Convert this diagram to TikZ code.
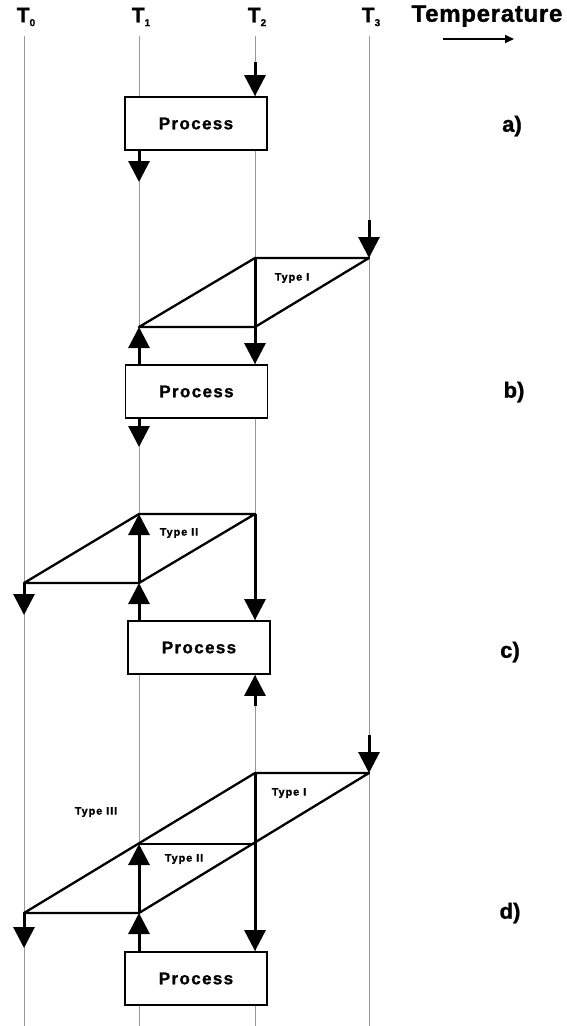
\documentclass[tikz,border=0pt]{standalone}
\usepackage{fontspec}
\setmainfont{Liberation Sans}
\newfontfamily\heavy[FakeBold=1.2]{Liberation Sans Bold}
\usetikzlibrary{arrows.meta}
\begin{document}
\begin{tikzpicture}[x=1pt,y=-1pt,
  guide/.style={black!40, line width=0.6pt},
  flow/.style={line width=3pt, -{Triangle[length=21pt,width=21pt]}},
  edge/.style={line width=2.3pt, line join=round},
  procbox/.style={draw, line width=1.8pt, fill=white, minimum width=142pt,
    minimum height=53pt, inner sep=0pt,
    font=\fontsize{17}{17}\selectfont\heavy\addfontfeature{LetterSpace=8}},
  typelbl/.style={inner sep=0pt,
    font=\fontsize{11}{11}\selectfont\heavy\addfontfeature{LetterSpace=8}},
  panel/.style={inner sep=0pt, font=\fontsize{22}{22}\selectfont\heavy},
  tlabel/.style={inner sep=0pt, font=\fontsize{21}{21}\selectfont\heavy}]

\useasboundingbox (0,0) rectangle (567,1026);

% temperature levels: guide lines and headings
\foreach \n/\x in {0/24,1/139,2/255,3/369}{
  \coordinate (g\n top) at (\x,36);
  \coordinate (g\n bot) at (\x,1026);
  \draw[guide] (g\n top) -- (g\n bot);
  \node[tlabel] (T\n) at (\x+2,17) {T\raisebox{-0.35ex}{\fontsize{10}{10}\selectfont\n}};
}
\node[tlabel, font=\fontsize{24}{24}\selectfont\heavy\addfontfeature{LetterSpace=3}] (temp) at (487,16) {Temperature};
\coordinate (ta) at (443,39);
\coordinate (tb) at (514,39);
\draw[line width=1.8pt, -{Triangle[length=9pt,width=8pt]}] (ta) -- (tb);

% ---------- a) ----------
\node[procbox] (pa) at (196,123.5) {Process};
\coordinate (ain) at (255,62);
\coordinate (aout) at (139,182);
\draw[flow] (ain) -- (ain |- pa.north);
\draw[flow] (pa.south -| aout) -- (aout);
\node[panel] (la) at (512,126) {a)};

% ---------- b) ----------
\coordinate (b1) at (139,327);
\coordinate (b2) at (255,258);
\coordinate (b3) at (369,258);
\coordinate (b4) at (255,327);
\coordinate (bin) at (369,220);
\coordinate (bout) at (139,447);
\node[procbox] (pb) at (196.5,391.5) {Process};
\draw[edge] (b1) -- (b2) -- (b3) -- (b4) -- cycle;
\draw[flow] (bin) -- (b3);
\draw[flow] (b2) -- (b2 |- pb.north);
\draw[flow] (pb.north -| b1) -- (b1);
\draw[flow] (pb.south -| bout) -- (bout);
\node[typelbl] (tb1) at (292,278) {Type I};
\node[panel] (lb) at (514,392) {b)};

% ---------- c) ----------
\coordinate (c1) at (24,583);
\coordinate (c2) at (139,514);
\coordinate (c3) at (255,514);
\coordinate (c4) at (139,583);
\coordinate (cout) at (24,615);
\coordinate (cin) at (255,706);
\node[procbox] (pc) at (199,647.5) {Process};
\draw[edge] (c1) -- (c2) -- (c3) -- (c4) -- cycle;
\draw[flow] (c3) -- (c3 |- pc.north);
\draw[flow] (c4) -- (c2);
\draw[flow] (pc.north -| c4) -- (c4);
\draw[flow] (c1) -- (cout);
\draw[flow] (cin) -- (cin |- pc.south);
\node[typelbl] (tc2) at (179,533) {Type II};
\node[panel] (lc) at (510,652) {c)};

% ---------- d) ----------
\coordinate (d1) at (24,913);
\coordinate (d2) at (139,844);
\coordinate (d3) at (255,773);
\coordinate (d4) at (369,773);
\coordinate (d5) at (255,844);
\coordinate (d6) at (139,913);
\coordinate (din) at (369,735);
\coordinate (dout) at (24,948);
\node[procbox] (pd) at (196,978.5) {Process};
\draw[edge] (d1) -- (d3) -- (d4) -- (d6) -- cycle;
\draw[edge] (d2) -- (d5);
\draw[flow] (din) -- (d4);
\draw[flow] (d3) -- (d3 |- pd.north);
\draw[flow] (d6) -- (d2);
\draw[flow] (pd.north -| d6) -- (d6);
\draw[flow] (d1) -- (dout);
\node[typelbl] (td1) at (289,793) {Type I};
\node[typelbl] (td3) at (96,812) {Type III};
\node[typelbl] (td2) at (184,859) {Type II};
\node[panel] (ld) at (510,913) {d)};
\end{tikzpicture}
\end{document}
